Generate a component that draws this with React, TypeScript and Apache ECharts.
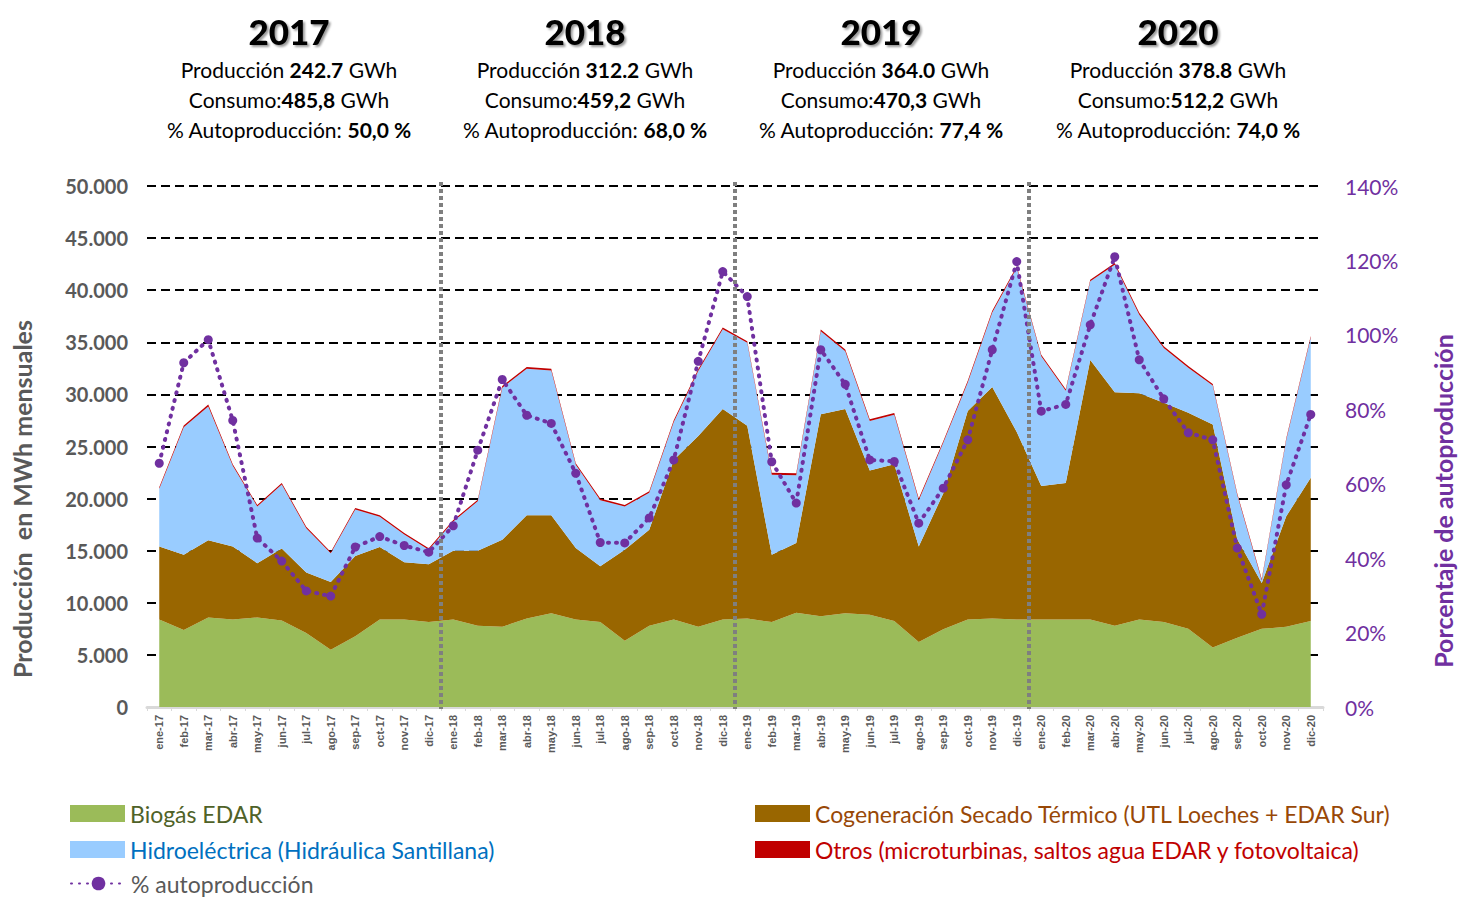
import { useEffect, useRef } from 'react';
import * as echarts from 'echarts';

const CATEGORIES = [
  'ene-17','feb-17','mar-17','abr-17','may-17','jun-17','jul-17','ago-17','sep-17','oct-17','nov-17','dic-17',
  'ene-18','feb-18','mar-18','abr-18','may-18','jun-18','jul-18','ago-18','sep-18','oct-18','nov-18','dic-18',
  'ene-19','feb-19','mar-19','abr-19','may-19','jun-19','jul-19','ago-19','sep-19','oct-19','nov-19','dic-19',
  'ene-20','feb-20','mar-20','abr-20','may-20','jun-20','jul-20','ago-20','sep-20','oct-20','nov-20','dic-20',
];

const BIOGAS = [
  8400, 7400, 8600, 8400, 8600, 8300, 7100, 5500, 6800, 8400, 8400, 8150,
  8400, 7800, 7700, 8500, 9000, 8400, 8150, 6350, 7800, 8400, 7700, 8400,
  8500, 8150, 9050, 8700, 9000, 8850, 8250, 6250, 7450, 8400, 8500, 8400,
  8400, 8400, 8400, 7800, 8400, 8150, 7500, 5700, 6650, 7500, 7700, 8250,
];

const COGENERACION = [
  7000, 7200, 7400, 7000, 5200, 6900, 5800, 6500, 7700, 6950, 5500, 5550,
  6600, 7200, 8350, 9900, 9400, 6850, 5350, 8750, 9200, 15300, 18300, 20200,
  18500, 6450, 6700, 19400, 19600, 13850, 15050, 9150, 13050, 20000, 22200, 18000,
  12800, 13100, 24900, 22400, 21700, 21050, 20750, 21400, 9450, 4400, 10600, 13750,
];

const HIDROELECTRICA = [
  5550, 12250, 12850, 7750, 5450, 6150, 4250, 2750, 4450, 2900, 2650, 1400,
  2800, 4750, 14600, 14050, 13900, 8000, 6350, 4150, 3550, 3650, 6250, 7650,
  7950, 7700, 6500, 7950, 5550, 4750, 4750, 4450, 4850, 2750, 7150, 15750,
  12450, 8850, 7550, 12250, 7550, 5250, 4300, 3750, 4250, 250, 7350, 13450,
];

const OTROS = [
  150, 160, 170, 150, 140, 150, 140, 130, 150, 160, 150, 140,
  140, 150, 160, 170, 160, 150, 150, 140, 150, 160, 170, 160,
  160, 170, 180, 170, 170, 160, 170, 150, 150, 160, 170, 160,
  150, 150, 160, 170, 180, 170, 170, 160, 150, 140, 150, 150,
];

const AUTOPRODUCCION = [
  65.5, 92.5, 98.7, 77.0, 45.4, 39.2, 31.2, 29.8, 43.0, 45.8, 43.4, 41.6,
  48.7, 69.0, 88.0, 78.4, 76.2, 62.8, 44.2, 44.1, 50.8, 66.4, 92.9, 117.0,
  110.3, 65.9, 54.8, 96.0, 86.7, 66.4, 66.0, 49.4, 58.8, 71.8, 96.0, 119.7,
  79.5, 81.3, 102.7, 121.0, 93.3, 82.8, 73.7, 71.8, 42.7, 24.9, 59.7, 78.6,
];

const YEARS = ['2017', '2018', '2019', '2020'];
const PRODUCCION_GWH = ['242.7', '312.2', '364.0', '378.8'];
const CONSUMO_GWH = ['485,8', '459,2', '470,3', '512,2'];
const PCT_AUTO = ['50,0 %', '68,0 %', '77,4 %', '74,0 %'];
const YEAR_LAST_INDEX = [11, 23, 35];

const LEFT_MIN = 0;
const LEFT_MAX = 50000;
const LEFT_INTERVAL = 5000;
const RIGHT_MIN = 0;
const RIGHT_MAX = 140;
const RIGHT_INTERVAL = 20;

const S_BIO = 'Biogás EDAR';
const S_COG = 'Cogeneración Secado Térmico (UTL Loeches + EDAR Sur)';
const S_HID = 'Hidroeléctrica (Hidráulica Santillana)';
const S_OTR = 'Otros (microturbinas, saltos agua EDAR y fotovoltaica)';
const S_PCT = '% autoproducción';

const FONT = 'Lato, "Liberation Sans", sans-serif';
const C_GREEN = '#9BBB59';
const C_BROWN = '#996600';
const C_BLUE = '#99CCFF';
const C_RED = '#C00000';
const C_PURPLE = '#7030A0';
const C_GRAY = '#595959';

const fmtThousands = (v: number) => String(v).replace(/\B(?=(\d{3})+(?!\d))/g, '.');

export default function App() {
  const ref = useRef<HTMLDivElement>(null);

  useEffect(() => {
    document.body.style.margin = '0';
    if (!ref.current) return;
    const chart = echarts.init(ref.current, undefined, { renderer: 'svg' });

    const headerCenters = [289, 585, 881, 1178];
    const headers: any[] = [];
    YEARS.forEach((y, i) => {
      const cx = headerCenters[i];
      headers.push({
        type: 'text', x: cx, y: 31, z: 100,
        style: {
          text: y, align: 'center', verticalAlign: 'middle',
          fontFamily: FONT, fontSize: 35, fontWeight: 900, fill: '#000',
          textShadowColor: 'rgba(0,0,0,0.4)', textShadowOffsetX: 2, textShadowOffsetY: 2, textShadowBlur: 2,
        },
      });
      const rich = {
        n: { fontFamily: FONT, fontSize: 21, color: '#000' },
        b: { fontFamily: FONT, fontSize: 21, fontWeight: 'bold', color: '#000' },
      };
      const lines = [
        `{n|Producción }{b|${PRODUCCION_GWH[i]}}{n| GWh}`,
        `{n|Consumo:}{b|${CONSUMO_GWH[i]}}{n| GWh}`,
        `{n|% Autoproducción: }{b|${PCT_AUTO[i]}}`,
      ];
      lines.forEach((t, j) => {
        headers.push({
          type: 'text', x: cx, y: 69 + j * 30, z: 100,
          style: { text: t, rich, align: 'center', verticalAlign: 'middle', fontFamily: FONT, fontSize: 21 },
        });
      });
    });

    const axisNames = [
      {
        type: 'text', x: 22, y: 499, rotation: Math.PI / 2, z: 100,
        style: {
          text: 'Producción  en MWh mensuales', align: 'center', verticalAlign: 'middle',
          fontFamily: FONT, fontSize: 25, fontWeight: 'bold', fill: C_GRAY,
        },
      },
      {
        type: 'text', x: 1443, y: 501, rotation: Math.PI / 2, z: 100,
        style: {
          text: 'Porcentaje de autoproducción', align: 'center', verticalAlign: 'middle',
          fontFamily: FONT, fontSize: 25, fontWeight: 'bold', fill: C_PURPLE,
        },
      },
    ];

    const areaSeries = (name: string, data: number[], color: string) => ({
      name, type: 'line', stack: 'prod', data, symbol: 'none',
      lineStyle: { width: 0, color }, itemStyle: { color },
      areaStyle: { color, opacity: 1 }, z: 2,
    });

    const legendItem = (name: string, left: number, top: number, color: string, rect: boolean) => ({
      left, top, padding: 0, itemWidth: 55, itemHeight: 17, selectedMode: false,
      textStyle: { fontFamily: FONT, fontSize: 23, lineHeight: 22, color },
      data: [rect ? { name, icon: 'rect' } : { name }],
    });

    chart.setOption({
      animation: false,
      textStyle: { fontFamily: FONT },
      grid: { left: 147, right: 135, top: 186, bottom: 190 },
      legend: [
        legendItem(S_BIO, 70, 802, '#4F6228', true),
        legendItem(S_HID, 70, 838, '#0070C0', true),
        legendItem(S_PCT, 70, 872, C_GRAY, false),
        legendItem(S_COG, 755, 802, '#984807', true),
        legendItem(S_OTR, 755, 838, C_RED, true),
      ],
      xAxis: {
        type: 'category', data: CATEGORIES, boundaryGap: true,
        axisLine: { lineStyle: { color: '#D9D9D9', width: 3 } },
        axisTick: { show: true, length: 4, lineStyle: { color: '#D9D9D9', width: 1 } },
        axisLabel: {
          rotate: 90, interval: 0, fontSize: 11, fontWeight: 'bold', color: C_GRAY,
          fontFamily: '"Liberation Sans", sans-serif', margin: 8,
        },
      },
      yAxis: [
        {
          type: 'value', min: LEFT_MIN, max: LEFT_MAX, interval: LEFT_INTERVAL,
          axisLine: { show: false }, axisTick: { show: false },
          splitLine: { show: true, lineStyle: { color: '#000', width: 2, type: [9, 5] } },
          axisLabel: { formatter: (v: number) => fmtThousands(v), color: C_GRAY, fontSize: 20, fontWeight: 'bold', margin: 19 },
        },
        {
          type: 'value', position: 'right', min: RIGHT_MIN, max: RIGHT_MAX, interval: RIGHT_INTERVAL,
          axisLine: { show: false }, axisTick: { show: false }, splitLine: { show: false },
          axisLabel: { formatter: '{value}%', color: C_PURPLE, fontSize: 21, margin: 22 },
        },
      ],
      series: [
        areaSeries(S_BIO, BIOGAS, C_GREEN),
        areaSeries(S_COG, COGENERACION, C_BROWN),
        areaSeries(S_HID, HIDROELECTRICA, C_BLUE),
        areaSeries(S_OTR, OTROS, C_RED),
        {
          name: S_PCT, type: 'line', yAxisIndex: 1, data: AUTOPRODUCCION,
          symbol: 'circle', symbolSize: 9, z: 5,
          itemStyle: { color: C_PURPLE },
          lineStyle: { color: C_PURPLE, width: 4, type: [1, 7], cap: 'round' },
        },
      ],
      graphic: { elements: [...headers, ...axisNames] },
    });

    const yTop = chart.convertToPixel({ yAxisIndex: 0 }, LEFT_MAX) as number;
    const yBottom = chart.convertToPixel({ yAxisIndex: 0 }, LEFT_MIN) as number;
    const sepLines = YEAR_LAST_INDEX.map((idx, k) => {
      const a = chart.convertToPixel({ xAxisIndex: 0 }, idx) as number;
      const b = chart.convertToPixel({ xAxisIndex: 0 }, idx + 1) as number;
      const x = (a + b) / 2;
      return {
        type: 'line', id: 'sep' + k, z: 50,
        shape: { x1: x, y1: yTop - 4, x2: x, y2: yBottom + 2 },
        style: { stroke: '#7F7F7F', lineWidth: 4, lineDash: [4, 3] },
      };
    });
    chart.setOption({ graphic: { elements: [...headers, ...axisNames, ...sepLines] } });

    return () => chart.dispose();
  }, []);

  return <div ref={ref} style={{ width: 1458, height: 897 }} />;
}
